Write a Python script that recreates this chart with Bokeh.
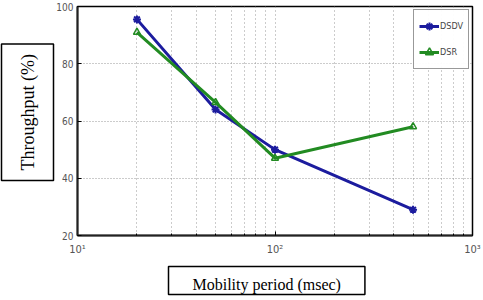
from bokeh.plotting import figure
from bokeh.models import Range1d, FixedTicker, Title, Legend, LegendItem
from bokeh.embed import file_html
from bokeh.resources import INLINE

mobility = [20, 50, 100, 500]
dsdv = [95.5, 64, 50, 29]
dsr = [91, 66.5, 47, 58]
y_ticks = [20, 40, 60, 80, 100]
x_ticks = [10, 100, 1000]
x_minor = [20, 30, 40, 50, 60, 70, 80, 90, 200, 300, 400, 500, 600, 700, 800, 900]
x_tick_labels = {10: "10¹", 100: "10²", 1000: "10³"}

NARROW = "Liberation Sans Narrow, DejaVu Sans Condensed, sans-serif"

p = figure(width=483, height=300, x_axis_type="log", output_backend="svg",
           toolbar_location=None, x_range=Range1d(10, 1000), y_range=Range1d(20, 100))
p.min_border_left = 77
p.min_border_right = 11
p.min_border_top = 6
p.min_border_bottom = 65
p.outline_line_color = "black"
p.outline_line_width = 1.5

for ax in (p.xaxis[0], p.yaxis[0]):
    ax.axis_line_color = "#222222"
    ax.axis_line_width = 2
    ax.major_tick_in = 4
    ax.major_tick_out = 0
    ax.minor_tick_in = 2
    ax.minor_tick_out = 0
    ax.major_label_text_font = NARROW
    ax.major_label_text_font_size = "10px"
    ax.major_label_text_color = "#555555"
    ax.major_label_standoff = 4

p.yaxis.ticker = FixedTicker(ticks=y_ticks)
p.yaxis.minor_tick_line_color = None

p.xaxis.ticker = FixedTicker(ticks=x_ticks, minor_ticks=x_minor)
p.xaxis.major_label_overrides = x_tick_labels
p.xaxis.major_label_text_font_size = "11px"
p.xaxis.major_label_standoff = 7

p.xgrid.grid_line_color = "#999999"
p.xgrid.grid_line_dash = "1 3"
p.xgrid.minor_grid_line_color = "#999999"
p.xgrid.minor_grid_line_dash = "1 3"
p.ygrid.grid_line_color = "#999999"
p.ygrid.grid_line_dash = "1 2"

blue = "#1c1c9e"
green = "#228b22"
l1 = p.line(mobility, dsdv, line_color=blue, line_width=3)
s1 = p.scatter(mobility, dsdv, marker="asterisk", size=8, line_color=blue, line_width=2)
l2 = p.line(mobility, dsr, line_color=green, line_width=3)
s2 = p.scatter(mobility, dsr, marker="triangle", size=7, line_color=green, fill_color=None, line_width=1.5)

legend = Legend(items=[LegendItem(label="DSDV", renderers=[l1, s1]),
                       LegendItem(label="DSR", renderers=[l2, s2])],
                location="top_right")
legend.margin = 3
legend.padding = 5
legend.spacing = 4
legend.label_text_font = NARROW
legend.label_text_font_size = "9px"
legend.label_standoff = 1
legend.glyph_width = 20
legend.label_height = 22
legend.glyph_height = 22
legend.border_line_color = "#333333"
legend.border_line_width = 1
p.add_layout(legend)

ytitle = Title(text="Throughput (%)", align="left", text_font="Liberation Serif",
               text_font_size="18px", text_font_style="normal", text_color="black",
               border_line_color="black", border_line_width=1.5, background_fill_color="white",
               padding=dict(left=10, right=10, top=16, bottom=16), standoff=0, offset=55)
p.add_layout(ytitle, "left")

xtitle = Title(text="Mobility period (msec)", align="left", text_font="Liberation Serif",
               text_font_size="16px", text_font_style="normal", text_color="black",
               border_line_color="black", border_line_width=1.5, background_fill_color="white",
               padding=dict(left=24, right=24, top=9, bottom=2), standoff=12, offset=91)
p.add_layout(xtitle, "below")

open("out.html", "w").write(file_html(p, INLINE))
